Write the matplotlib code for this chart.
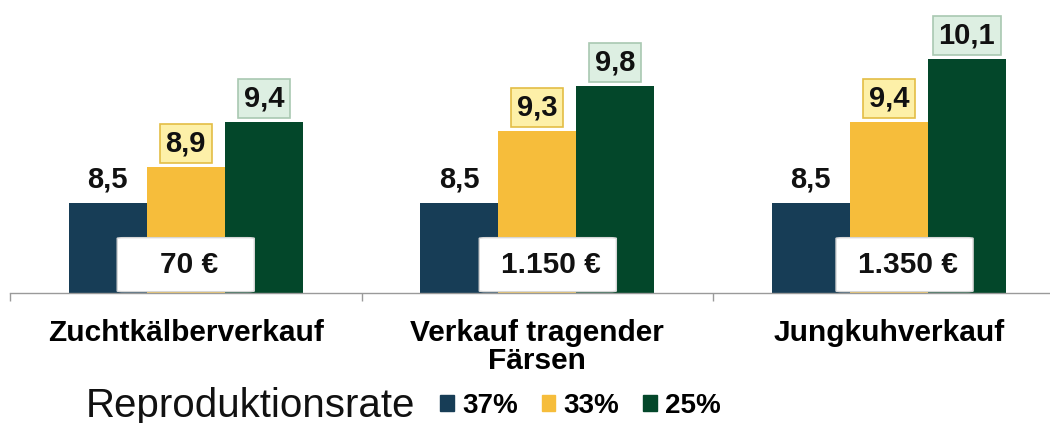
import matplotlib.pyplot as plt
import numpy as np
from matplotlib.patches import FancyBboxPatch

# ---------------------------------------------------------
# Daten
# ---------------------------------------------------------
categories = ["Zuchtkälberverkauf", "Verkauf tragender\nFärsen", "Jungkuhverkauf"]
series = ["37%", "33%", "25%"]
values_37 = [8.5, 8.5, 8.5]
values_33 = [8.9, 9.3, 9.4]
values_25 = [9.4, 9.8, 10.1]
prices = ["70 €", "1.150 €", "1.350 €"]
legend_title = "Reproduktionsrate"

colors = ["#173d56", "#f6bd3b", "#03472a"]
box_face = [None, "#fdf0a8", "#ddefe2"]
box_edge = [None, "#e3bd45", "#a9c8b1"]

plt.rcParams["font.family"] = ["Liberation Sans", "DejaVu Sans"]

fig = plt.figure(figsize=(10.5, 4.23), dpi=100)
ax = fig.add_axes([10 / 1050, 130 / 423, 1054.5 / 1050, 293 / 423])

x = np.arange(len(categories))
w = 0.222
all_vals = [values_37, values_33, values_25]

for i, vals in enumerate(all_vals):
    pos = x + (i - 1) * w
    ax.bar(pos, vals, width=w, bottom=0, color=colors[i], zorder=2)
    for px, v in zip(pos, vals):
        txt = f"{v:.1f}".replace(".", ",")
        kw = {}
        if box_face[i]:
            kw["bbox"] = dict(boxstyle="square,pad=0.2", fc=box_face[i], ec=box_edge[i], lw=1.2)
        ax.annotate(txt, (px, v), xytext=(0, 17), textcoords="offset points",
                    ha="center", va="center", fontsize=21, fontweight="bold",
                    color="#111111", zorder=5, **kw)

# Preisboxen
box_off = [0.0, 0.03, 0.045]
for i, p in enumerate(prices):
    cx = x[i] + box_off[i]
    bw, bh = 0.39, 0.6
    ax.add_patch(FancyBboxPatch((cx - bw / 2, 7.515), bw, bh,
                                boxstyle="round,pad=0,rounding_size=0.02",
                                fc="white", ec="#d6d6d6", lw=1, zorder=4,
                                mutation_aspect=0.4))
    ax.text(cx + 0.01, 7.81, p, ha="center", va="center", fontsize=21.5,
            fontweight="bold", color="#111111", zorder=6)

ax.set_xlim(-0.5, 2.5)
ax.set_ylim(7.5, 7.5 + 293 / 90)
ax.set_xticks(x)
ax.set_xticklabels(categories, fontsize=21.5, fontweight="bold", linespacing=1.0)
ax.tick_params(axis="x", which="major", length=0, pad=19)
ax.set_xticks([-0.5, 0.5, 1.5], minor=True)
ax.tick_params(axis="x", which="minor", length=6, color="#9a9a9a", width=1)
ax.set_yticks([])
for s in ["top", "right", "left"]:
    ax.spines[s].set_visible(False)
ax.spines["bottom"].set_color("#9a9a9a")
ax.spines["bottom"].set_linewidth(1)
ax.patch.set_visible(False)

# Legende
fig.text(86 / 1050, 17 / 423, legend_title, ha="left", va="center", fontsize=29, color="#111111")
handles = [plt.Rectangle((0, 0), 1, 1, color=c) for c in colors]
leg = fig.legend(handles, series, ncol=3, loc="center left",
                 bbox_to_anchor=(440 / 1050, 17 / 423), frameon=False,
                 prop={"size": 20, "weight": "bold"}, handlelength=0.5,
                 handleheight=0.5, handletextpad=0.3, columnspacing=0.85,
                 borderpad=0, borderaxespad=0)

fig.savefig("out.png", dpi=100)
